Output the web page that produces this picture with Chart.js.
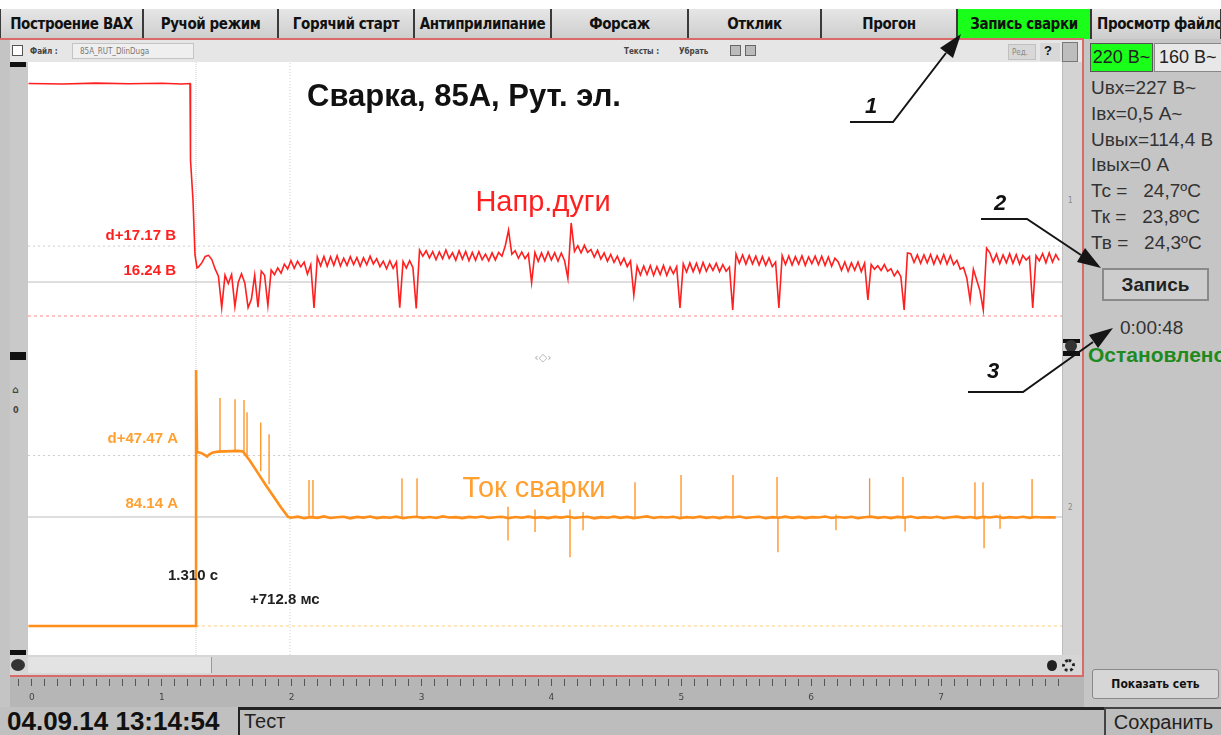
<!DOCTYPE html>
<html>
<head>
<meta charset="utf-8">
<script src="https://cdn.jsdelivr.net/npm/chart.js@4.4.1/dist/chart.umd.min.js"></script>
<style>
  body{margin:0;width:1221px;height:735px;overflow:hidden;background:#c4c4c4;position:relative;font-family:"Liberation Sans",Arial,sans-serif;color:#111}
  .abs{position:absolute}
  .tab{position:absolute;top:9px;height:30px;box-sizing:border-box;background:linear-gradient(#e6e6e6,#cdcdcd);border-left:1px solid #3a3a3a;border-right:1px solid #3a3a3a;display:flex;align-items:center;justify-content:center;white-space:nowrap;overflow:hidden;font:bold 15px "Liberation Sans Narrow","DejaVu Sans Condensed",sans-serif;letter-spacing:-0.4px}
  .tab.on{background:#19ff19}
  .panel{font-size:19px;color:#333;white-space:pre}
  .tiny{font:bold 8px "DejaVu Sans Condensed",sans-serif;color:#444;white-space:nowrap}
  .btn{position:absolute;box-sizing:border-box;display:flex;align-items:center;justify-content:center;white-space:nowrap}
</style>
</head>
<body>
<!-- window top strip and tabs -->
<div class="abs" style="left:0;top:0;width:1221px;height:9px;background:#fff"></div>
<div id="tabs"></div>
<div class="abs" style="left:0;top:38px;width:1084px;height:2px;background:#d96a6a"></div>

<!-- toolbar of the plot window -->
<div class="abs" style="left:10px;top:40px;width:1072px;height:22px;background:#e6e6e6"></div>
<div class="abs" style="left:12px;top:45px;width:9px;height:9px;border:1px solid #555;background:#fff"></div>
<div class="abs tiny" style="left:30px;top:47px">Файл :</div>
<div class="abs" style="left:72px;top:43px;width:122px;height:16px;box-sizing:border-box;border:1px solid #c4c4c4;background:#efefef"></div>
<div class="abs tiny" style="left:80px;top:47px;font-weight:normal;color:#777">85A_RUT_DlinDuga</div>
<div class="abs tiny" style="left:624px;top:47px">Тексты :</div>
<div class="abs tiny" style="left:679px;top:47px">Убрать</div>
<div class="abs" style="left:730px;top:45px;width:11px;height:11px;border:1px solid #666;background:#bbb;box-sizing:border-box"></div>
<div class="abs" style="left:745px;top:45px;width:11px;height:11px;border:1px solid #666;background:#bbb;box-sizing:border-box"></div>
<div class="abs" style="left:1008px;top:44px;width:28px;height:16px;background:#d8d8d8;border:1px solid #c0c0c0;box-sizing:border-box"></div>
<div class="abs tiny" style="left:1012px;top:48px;color:#888;font-weight:normal">Ред.</div>
<div class="abs" style="left:1040px;top:43px;width:20px;height:18px;background:#d8d8d8"></div>
<div class="abs" style="left:1044px;top:43px;font:bold 13px 'Liberation Sans',Arial">?</div>
<div class="abs" style="left:1062px;top:42px;width:16px;height:20px;background:#bdbdbd;border:1px solid #777;box-sizing:border-box"></div>

<!-- plot window frame -->
<div class="abs" style="left:10px;top:62px;width:18px;height:593px;background:#c9c9c9"></div>
<div class="abs" style="left:10px;top:62px;width:16px;height:5px;background:#111"></div>
<div class="abs" style="left:10px;top:352px;width:16px;height:8px;background:#111"></div>
<div class="abs" style="left:10px;top:650px;width:16px;height:5px;background:#111"></div>
<div class="abs tiny" style="left:12px;top:384px;font-size:10px">⌂</div>
<div class="abs tiny" style="left:13px;top:405px;font-size:9px">0</div>
<div class="abs" style="left:28px;top:62px;width:1034px;height:593px;background:#fff"></div>
<canvas id="plot" class="abs" width="1034" height="593" style="left:28px;top:62px"></canvas>
<div class="abs" style="left:1062px;top:62px;width:20px;height:593px;background:#d3d3d3;border-left:1px solid #bcbcbc;box-sizing:border-box"></div>
<div class="abs tiny" style="left:1068px;top:196px;color:#888;font-weight:normal">1</div>
<div class="abs tiny" style="left:1068px;top:503px;color:#888;font-weight:normal">2</div>
<div class="abs" style="left:1063px;top:339px;width:17px;height:4px;background:#111"></div>
<div class="abs" style="left:1065px;top:340px;width:12px;height:12px;border-radius:50%;background:#333"></div>
<div class="abs" style="left:1063px;top:351px;width:17px;height:5px;background:#111"></div>
<div class="abs" style="left:1082px;top:40px;width:2px;height:637px;background:#d96a6a"></div>

<!-- horizontal scrollbar -->
<div class="abs" style="left:10px;top:655px;width:1072px;height:20px;background:#d6d6d6"></div>
<div class="abs" style="left:28px;top:657px;width:184px;height:16px;background:#e3e3e3;border-right:1px solid #999;box-sizing:border-box"></div>
<div class="abs" style="left:11px;top:659px;width:14px;height:12px;border-radius:50%;background:#333"></div>
<div class="abs" style="left:1047px;top:660px;width:10px;height:11px;border-radius:50%;background:#222"></div>
<div class="abs" style="left:1062px;top:659px;width:13px;height:13px;border-radius:50%;border:3px dotted #222;box-sizing:border-box"></div>
<div class="abs" style="left:10px;top:675px;width:1074px;height:2px;background:#d96a6a"></div>

<!-- time ruler -->
<div class="abs" style="left:10px;top:677px;width:1074px;height:30px;background:#b6b6b6"></div>
<canvas id="ruler" class="abs" width="1054" height="29" style="left:10px;top:677px"></canvas>

<!-- status line -->
<div class="abs" style="left:0;top:707px;width:1221px;height:28px;background:#c0c0c0"></div>
<div class="abs" style="left:7px;top:706px;font:bold 26px 'Liberation Sans',Arial;color:#111;white-space:nowrap">04.09.14 13:14:54</div>
<div class="abs" style="left:238px;top:707px;width:866px;height:28px;box-sizing:border-box;border-top:3px solid #222;border-left:2px solid #222;background:#bdbdbd"></div>
<div class="abs" style="left:244px;top:710px;font:20px 'Liberation Sans',Arial;color:#222">Тест</div>
<div class="btn" style="left:1104px;top:707px;width:117px;height:28px;border-left:2px solid #444;border-top:2px solid #444;background:#bdbdbd;font:20px 'Liberation Sans',Arial;color:#222">Сохранить</div>

<!-- side panel -->
<div class="abs" style="left:1084px;top:40px;width:137px;height:667px;background:#c5c5c5;overflow:hidden"></div>
<div class="btn" style="left:1090px;top:43px;width:63px;height:29px;background:#19ff19;border:1px solid #555;font-size:18px;color:#222">220 В~</div>
<div class="btn" style="left:1154px;top:43px;width:70px;height:29px;background:#e8e8e8;border:1px solid #888;font-size:18px;color:#222;justify-content:flex-start;padding-left:4px">160 В~</div>
<div id="readouts"></div>
<div class="btn" style="left:1102px;top:268px;width:107px;height:33px;background:#cdcdcd;border:2px solid #8a8a8a;font:bold 19px 'Liberation Sans',Arial;color:#222">Запись</div>
<div class="abs panel" style="left:1120px;top:317px">0:00:48</div>
<div class="abs panel" style="left:1088px;top:343px;font-weight:bold;font-size:21px;color:#1f8a1f">Остановлено</div>
<div class="btn" style="left:1092px;top:669px;width:127px;height:30px;background:#d6d6d6;border:1px solid #8a8a8a;border-radius:3px;font:bold 12px 'DejaVu Sans Condensed',sans-serif;color:#111">Показать сеть</div>

<!-- callouts -->
<svg class="abs" style="left:0;top:0" width="1221" height="735">
  <g stroke="#151515" stroke-width="2" fill="none">
    <polyline points="850,122 893,122 946,53"/>
    <polyline points="981,219 1027,219 1081,255"/>
    <polyline points="968,392 1023,392 1093,342"/>
  </g>
  <g fill="#151515">
    <polygon points="961,34 953,58 940,48"/>
    <polygon points="1101,268 1077,262 1085,248"/>
    <polygon points="1113,328 1098,348 1089,335"/>
  </g>
  <g font-family="Liberation Sans, Arial" font-weight="bold" font-style="italic" font-size="22" fill="#111" text-anchor="middle">
    <text x="871" y="113">1</text>
    <text x="1000" y="210">2</text>
    <text x="993" y="378">3</text>
  </g>
</svg>

<script>
// ---- tabs and panel readouts ----
const TAB_EDGES = [0, 143, 278, 414, 551, 688, 821, 957, 1091, 1221];
const TAB_NAMES = ['Построение ВАХ', 'Ручой режим', 'Горячий старт', 'Антиприлипание', 'Форсаж', 'Отклик', 'Прогон', 'Запись сварки', 'Просмотр файлов'];
const ACTIVE_TAB = 7;
const READOUTS = ['Uвх=227 В~', 'Iвх=0,5 А~', 'Uвых=114,4 В', 'Iвых=0 А', 'Тс =   24,7ºC', 'Тк =   23,8ºC', 'Тв =   24,3ºC'];

const tabs = document.getElementById('tabs');
TAB_NAMES.forEach((name, i) => {
  const d = document.createElement('div');
  d.className = 'tab' + (i === ACTIVE_TAB ? ' on' : '');
  d.style.left = TAB_EDGES[i] + 'px';
  d.style.width = (TAB_EDGES[i + 1] - TAB_EDGES[i]) + 'px';
  if (i === TAB_NAMES.length - 1) { d.style.justifyContent = 'flex-start'; d.style.paddingLeft = '5px'; }
  d.textContent = name;
  tabs.appendChild(d);
});
const ro = document.getElementById('readouts');
READOUTS.forEach((t, i) => {
  const d = document.createElement('div');
  d.className = 'abs panel';
  d.style.left = '1091px';
  d.style.top = (77 + i * 25.8) + 'px';
  d.textContent = t;
  ro.appendChild(d);
});

// ---- recorded signals (time in s) ----
const TIME_MIN = 0.036, TIME_MAX = 7.877;

// arc voltage, В: open circuit and strike
const VOLT_HEAD_T = [0.04, 0.30, 0.55, 0.80, 1.05, 1.20, 1.2645, 1.2683, 1.2872, 1.3024, 1.3176];
const VOLT_HEAD_V = [111.2, 111.0, 111.4, 111.1, 111.3, 111.0, 111.2, 74.6, 55.5, 29.2, 23.0];
// arc voltage, В: burning arc, sampled every 25 ms from 1.33 s
const VOLT_T0 = 1.33, VOLT_DT = 0.025;
const VOLT_V = [
  23.5, 25.5, 28.5, 29, 27, 22.5, 19, 4, 19.5, 15.5,
  19.8, 4.5, 16, 20.2, 15.8, 4, 8, 19.5, 4.2, 21.5,
  19.5, 5, 22, 19.8, 23, 20.5, 24.8, 22.5, 26.5, 22.8,
  26.2, 23.5, 25.8, 20, 24.5, 3.8, 28.2, 24, 28.5, 23.8,
  28.3, 24.2, 28.8, 23.9, 27.6, 24.2, 28.4, 24.6, 27.9, 23.8,
  27.8, 24.5, 28.6, 24.9, 27.4, 23.6, 26.2, 22.6, 26.4, 22.8,
  25.9, 4, 26.1, 22.9, 26.5, 23.1, 3.6, 31.5, 28.6, 31.2,
  27.8, 30.8, 26.9, 30.6, 27.4, 31.6, 27.5, 30.2, 26.6, 31.2,
  27.2, 30.9, 26.4, 30.4, 26.6, 30.8, 26.9, 29.6, 26.4, 30.2,
  26.8, 30.4, 28.6, 33.5, 41, 29.5, 31.2, 27.6, 30.6, 27.4,
  29.8, 16, 30.4, 26.2, 30.2, 26.4, 30.6, 26.8, 30.2, 26.2,
  30.1, 26.4, 18, 44.5, 30.8, 33.6, 30.2, 33.8, 30.4, 31.8,
  28.2, 31.4, 27.2, 30.2, 26.2, 29.4, 25.6, 28.6, 24.6, 27.6,
  23.6, 26.4, 10, 23.8, 19.6, 23.9, 19.8, 24.1, 19.4, 23.6,
  19.8, 24.2, 19.4, 23.4, 20.2, 23.6, 3.8, 25, 21, 25.4,
  21.2, 25.2, 20.8, 25.6, 21.4, 24.8, 21.8, 25.2, 21.2, 24.6,
  21.4, 23.4, 2.9, 29.6, 25.2, 29.2, 24.8, 28.9, 24.9, 28.6,
  24.4, 28.4, 24.2, 27.8, 23.6, 25.8, 3.8, 28.9, 24.6, 28.7,
  24.4, 28.4, 24.8, 28.8, 24.2, 28.2, 25, 28.6, 24.6, 28.6,
  24.2, 28.2, 23.8, 27.6, 25.8, 21.8, 25.8, 21.4, 25.4, 21.9,
  25.8, 21.2, 25.2, 7.7, 24.6, 22.4, 24, 21.8, 24.6, 21.4,
  22.6, 19.2, 21.6, 18.8, 2.9, 30.1, 29.8, 25.6, 29.2, 25.2,
  29.2, 25.4, 29.4, 24.8, 28.8, 25.2, 29.4, 24.8, 28.8, 24.6,
  26.6, 22.4, 23.2, 18.2, 7.5, 22.4, 17.2, 12, 2.9, 32.5,
  30.2, 25.8, 29.6, 25, 29.2, 25.4, 29.8, 25.2, 29.4, 24.8,
  29, 26.8, 28.4, 3.8, 28.8, 26.4, 29.8, 25.4, 30.2, 25.8,
  29.4, 26.6
];

// welding current, А: before strike, hot start and ramp-down
const CUR_HEAD_T = [0.04, 1.310, 1.3105, 1.3176, 1.348, 1.378, 1.393, 1.409, 1.439, 1.477, 1.530, 1.583, 1.628, 1.666, 1.719, 1.780, 1.841, 1.901, 1.955, 2.008];
const CUR_HEAD_I = [0, 0, 197.6, 134.4, 133.6, 132.0, 130.8, 132.4, 134.0, 134.6, 134.8, 135.0, 135.2, 134.8, 127.5, 118.0, 108.5, 99.5, 91.5, 84.3];
// welding current, А: steady arc, sampled every 50 ms from 2.03 s
const CUR_T0 = 2.03, CUR_DT = 0.05;
const CUR_I = [
  83.6, 84.4, 83.2, 84.0, 83.5, 84.6, 83.4, 83.9, 84.3, 83.1,
  84.2, 83.7, 84.5, 83.3, 84.0, 83.6, 84.4, 83.2, 83.9, 84.3,
  83.5, 84.1, 83.4, 84.6, 83.7, 84.0, 83.3, 84.2, 83.8, 84.5,
  83.4, 83.9, 84.3, 83.2, 84.1, 83.6, 84.4, 83.5, 84.0, 83.3,
  84.2, 83.7, 84.5, 83.4, 83.9, 84.3, 83.1, 84.0, 83.6, 84.4,
  83.5, 84.2, 83.3, 83.9, 84.6, 83.4, 84.1, 83.7, 84.3, 83.2,
  84.0, 83.6, 84.4, 83.5, 84.1, 83.3, 84.2, 83.8, 84.5, 83.4,
  83.9, 84.3, 83.2, 84.0, 83.6, 84.4, 83.5, 84.2, 83.3, 84.0,
  83.7, 84.5, 83.4, 84.1, 83.6, 84.3, 83.2, 83.9, 84.4, 83.5,
  84.1, 83.3, 84.2, 83.7, 84.5, 83.4, 84.0, 83.6, 84.3, 83.2,
  83.9, 84.4, 83.5, 84.1, 83.3, 84.2, 83.8, 84.5, 83.4, 84.0,
  83.6, 84.3, 83.5, 84.1, 83.7, 84.0, 83.8
];
// short current spikes (droplet transfer): time, low and high end, А
const SPIKE_T  = [1.492, 1.606, 1.674, 1.697, 1.801, 1.864, 2.167, 2.197, 2.872, 2.986, 3.676, 3.881, 4.146, 4.245, 4.639, 4.988, 5.382, 5.716, 5.723, 6.163, 6.418, 6.671, 6.687, 7.217, 7.278, 7.286, 7.407, 7.650];
const SPIKE_LO = [134.6, 135.0, 134.8, 131.0, 119.5, 109.5, 84.0, 84.0, 84.0, 84.0, 66.0, 72.6, 53.0, 74.0, 84.0, 84.0, 84.0, 84.0, 57.0, 74.0, 84.0, 84.0, 73.0, 84.0, 84.0, 60.0, 75.0, 84.0];
const SPIKE_HI = [176.0, 175.0, 174.5, 165.0, 157.0, 148.0, 112.7, 112.7, 114.0, 114.0, 92.0, 90.0, 90.0, 88.0, 111.0, 116.6, 116.6, 115.0, 84.0, 86.0, 114.0, 115.0, 84.0, 111.0, 111.0, 84.0, 86.0, 113.5];

// measurement cursors
const CURSOR_T = 1.310, CURSOR_DT = 0.7128;
const U_BASE = 16.24, U_DELTA = 17.17;
const I_BASE = 84.14, I_DELTA = 47.47;

// ruler range
const RULER_MIN = -0.1688, RULER_MAX = 7.9202, RULER_STEP = 0.1;

// ---- build chart tables ----
const voltData = VOLT_HEAD_T.map((t, i) => ({x: t, y: VOLT_HEAD_V[i]}))
  .concat(VOLT_V.map((v, i) => ({x: VOLT_T0 + i * VOLT_DT, y: v})));
const curData = CUR_HEAD_T.map((t, i) => ({x: t, y: CUR_HEAD_I[i]}))
  .concat(CUR_I.map((v, i) => ({x: CUR_T0 + i * CUR_DT, y: v})));
const spikeData = [];
SPIKE_T.forEach((t, i) => {
  spikeData.push({x: t, y: SPIKE_LO[i]}, {x: t, y: SPIKE_HI[i]}, {x: t, y: null});
});
const hLine = (v) => [{x: TIME_MIN, y: v}, {x: TIME_MAX, y: v}];
const U_TOP = 121.5, U_BOT = -162.2, I_TOP = 435.4, I_BOT = -22.4;
const vLine = (t) => [{x: t, y: U_BOT}, {x: t, y: U_TOP}];

const RED = '#ff1f1f', ORANGE = '#ff8f1a';
const base = {pointRadius: 0, tension: 0, fill: false};

// in-plot captions placed through the scales
const captions = {
  id: 'captions',
  afterDatasetsDraw(chart) {
    const {ctx} = chart;
    const x = chart.scales.x, yV = chart.scales.yV, yI = chart.scales.yI;
    const cx = x.getPixelForValue(CURSOR_T);
    const cx2 = x.getPixelForValue(CURSOR_T + CURSOR_DT);
    ctx.save();
    ctx.textBaseline = 'middle';
    // title
    ctx.font = 'bold 31px "Liberation Sans", Arial, sans-serif';
    ctx.fillStyle = '#111';
    ctx.textAlign = 'center';
    ctx.fillText('Сварка, 85А, Рут. эл.', 436, 35);
    // series names
    ctx.font = '29px "Liberation Sans", Arial, sans-serif';
    ctx.fillStyle = RED;
    ctx.fillText('Напр.дуги', 515, 141);
    ctx.fillStyle = '#ffa030';
    ctx.fillText('Ток сварки', 506, 427);
    // cursor levels
    ctx.font = 'bold 15px "Liberation Sans", Arial, sans-serif';
    ctx.textAlign = 'right';
    ctx.fillStyle = RED;
    ctx.fillText('d+' + U_DELTA.toFixed(2) + ' В', cx - 20, yV.getPixelForValue(U_BASE + U_DELTA) - 10);
    ctx.fillText(U_BASE.toFixed(2) + ' В', cx - 20, yV.getPixelForValue(U_BASE) - 11);
    ctx.fillStyle = '#ffa030';
    ctx.fillText('d+' + I_DELTA.toFixed(2) + ' А', cx - 18, yI.getPixelForValue(I_BASE + I_DELTA) - 17);
    ctx.fillText(I_BASE.toFixed(2) + ' А', cx - 18, yI.getPixelForValue(I_BASE) - 13);
    // cursor times
    ctx.textAlign = 'left';
    ctx.fillStyle = '#222';
    ctx.fillText(CURSOR_T.toFixed(3) + ' с', cx - 28, 514);
    ctx.fillText('+' + (CURSOR_DT * 1000).toFixed(1) + ' мс', cx2 - 40, 538);
    // centre marker
    ctx.font = '11px "DejaVu Sans", sans-serif';
    ctx.fillStyle = '#aaa';
    ctx.textAlign = 'center';
    ctx.fillText('‹◇›', 515, 296);
    ctx.restore();
  }
};

new Chart(document.getElementById('plot'), {
  type: 'line',
  data: {
    datasets: [
      {...base, data: spikeData, yAxisID: 'yI', borderColor: ORANGE, borderWidth: 1.3, spanGaps: false},
      {...base, data: voltData, yAxisID: 'yV', borderColor: RED, borderWidth: 1.6},
      {...base, data: curData, yAxisID: 'yI', borderColor: ORANGE, borderWidth: 2.6},
      {...base, data: hLine(0), yAxisID: 'yV', borderColor: '#ff8a8a', borderWidth: 1, borderDash: [3, 3]},
      {...base, data: hLine(U_BASE), yAxisID: 'yV', borderColor: '#bdbdbd', borderWidth: 1},
      {...base, data: hLine(U_BASE + U_DELTA), yAxisID: 'yV', borderColor: '#cfcfcf', borderWidth: 1, borderDash: [2, 3]},
      {...base, data: hLine(0), yAxisID: 'yI', borderColor: '#ffcc80', borderWidth: 1, borderDash: [3, 3]},
      {...base, data: hLine(I_BASE), yAxisID: 'yI', borderColor: '#bdbdbd', borderWidth: 1},
      {...base, data: hLine(I_BASE + I_DELTA), yAxisID: 'yI', borderColor: '#cfcfcf', borderWidth: 1, borderDash: [2, 3]},
      {...base, data: vLine(CURSOR_T), yAxisID: 'yV', borderColor: '#cfcfcf', borderWidth: 1, borderDash: [1, 1]},
      {...base, data: vLine(CURSOR_T + CURSOR_DT), yAxisID: 'yV', borderColor: '#cfcfcf', borderWidth: 1, borderDash: [1, 2]}
    ]
  },
  options: {
    responsive: false,
    devicePixelRatio: 1,
    animation: false,
    events: [],
    layout: {padding: 0},
    plugins: {legend: {display: false}, tooltip: {enabled: false}},
    scales: {
      x: {type: 'linear', min: TIME_MIN, max: TIME_MAX, display: false},
      yV: {type: 'linear', min: U_BOT, max: U_TOP, display: false},
      yI: {type: 'linear', min: I_BOT, max: I_TOP, display: false}
    }
  },
  plugins: [captions]
});

// time ruler under the plot
new Chart(document.getElementById('ruler'), {
  type: 'line',
  data: {datasets: []},
  options: {
    responsive: false,
    devicePixelRatio: 1,
    animation: false,
    events: [],
    layout: {padding: 0},
    plugins: {legend: {display: false}, tooltip: {enabled: false}},
    scales: {
      x: {
        type: 'linear', position: 'bottom', min: RULER_MIN, max: RULER_MAX,
        afterFit: (s) => { s.height = 27; },
        border: {display: false},
        grid: {drawOnChartArea: false, drawTicks: true, tickLength: 7, tickColor: '#555', tickWidth: 1},
        ticks: {
          stepSize: RULER_STEP, autoSkip: false, maxRotation: 0, includeBounds: false, padding: 6,
          color: '#444', font: {size: 9, family: '"DejaVu Sans", sans-serif'},
          callback: (v) => Math.abs(v - Math.round(v)) < 1e-6 ? String(Math.round(v)) : ''
        }
      },
      y: {display: false}
    }
  }
});
</script>
</body>
</html>
